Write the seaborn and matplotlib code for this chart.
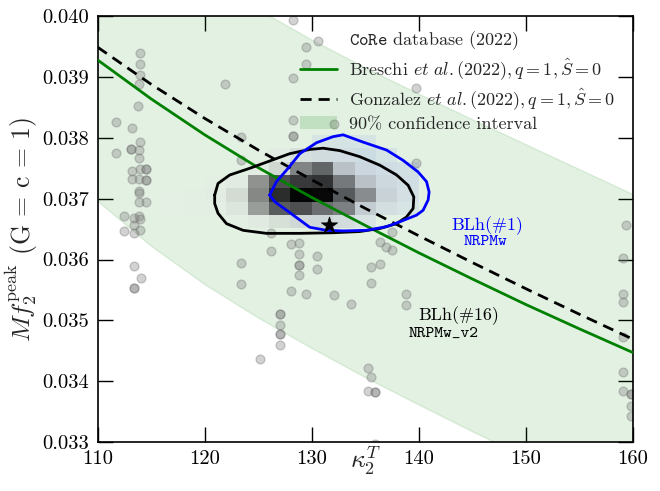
import numpy as np
import pandas as pd
import matplotlib
matplotlib.use("Agg")
import matplotlib.pyplot as plt
from matplotlib.colors import LinearSegmentedColormap
from matplotlib.lines import Line2D
from matplotlib.patches import Patch
import seaborn as sns

# --- quasi-universal fits for the peak frequency -------------------------
kappa_grid = [110, 115, 120, 125, 130, 135, 140, 145, 150, 155, 160]
breschi_fit = [0.03928, 0.03864, 0.03805, 0.03751, 0.03702, 0.03656,
               0.03611, 0.03568, 0.03526, 0.03486, 0.03447]
gonzalez_fit = [0.03949, 0.03888, 0.03832, 0.03780, 0.03731, 0.03684,
                0.03639, 0.03595, 0.03552, 0.03510, 0.03469]
band_lower = [0.03696, 0.03622, 0.03559, 0.03504, 0.03454, 0.03406,
              0.03361, 0.03317, 0.03275, 0.03235, 0.03196]
band_upper = [0.04188, 0.04124, 0.04065, 0.04011, 0.03961, 0.03915,
              0.03872, 0.03830, 0.03789, 0.03748, 0.03707]

# --- CoRe database simulations --------------------------------------------
core_kappa = [
    113.93, 113.99, 113.93, 113.86, 113.80, 111.75, 113.18, 113.93, 113.12, 113.12,
    113.86, 111.75, 113.86, 113.93, 114.49, 114.49, 113.18, 113.18, 113.86, 114.49,
    114.49, 113.86, 113.86, 113.86, 114.49, 112.50, 113.43, 113.86, 113.99, 113.43,
    112.50, 113.43, 113.99, 113.43, 114.05, 113.43, 113.43,
    128.20, 130.59, 129.50, 129.50, 121.90, 128.20, 139.72, 128.20, 132.08, 128.20,
    128.20, 123.43, 123.43, 139.72,
    126.23, 128.10, 128.81, 126.23, 128.81, 130.53, 123.43, 128.81, 128.81, 130.53,
    128.81, 123.43, 128.10, 129.50, 132.08, 133.64, 136.36, 136.96, 137.50, 137.50,
    135.54, 136.36, 135.54, 138.79, 138.79, 127.07, 127.07, 127.07, 127.07, 127.07,
    127.07, 125.14, 135.26, 135.54, 135.26, 135.92, 135.92, 135.92,
    159.32, 159.09, 159.09, 159.09, 159.09, 159.09, 159.09, 159.79, 159.79, 159.79,
    159.79,
]
core_fpeak = [
    0.03939, 0.03921, 0.03904, 0.03889, 0.03852, 0.03826, 0.03817, 0.03794, 0.03781, 0.03781,
    0.03780, 0.03775, 0.03767, 0.03749, 0.03749, 0.03749, 0.03746, 0.03733, 0.03732, 0.03731,
    0.03731, 0.03713, 0.03709, 0.03694, 0.03694, 0.03671, 0.03669, 0.03671, 0.03666, 0.03656,
    0.03647, 0.03644, 0.03648, 0.03589, 0.03570, 0.03553, 0.03553,
    0.03993, 0.03959, 0.03949, 0.03921, 0.03889, 0.03899, 0.03882, 0.03830, 0.03822, 0.03803,
    0.03803, 0.03802, 0.03763, 0.03758,
    0.03643, 0.03625, 0.03627, 0.03614, 0.03609, 0.03606, 0.03595, 0.03591, 0.03591, 0.03584,
    0.03575, 0.03560, 0.03549, 0.03544, 0.03542, 0.03527, 0.03629, 0.03621, 0.03616, 0.03646,
    0.03588, 0.03593, 0.03562, 0.03543, 0.03525, 0.03511, 0.03511, 0.03493, 0.03477, 0.03477,
    0.03459, 0.03437, 0.03421, 0.03407, 0.03384, 0.03383, 0.03383, 0.03297,
    0.03657, 0.03602, 0.03543, 0.03530, 0.03473, 0.03415, 0.03384, 0.03379, 0.03379, 0.03360,
    0.03342,
]

# --- BLh posterior histograms (NRPMw_v2 grey, NRPMw blue) -----------------
cell_kappa = [115, 117, 119, 121, 123, 125, 127, 129, 131, 133, 135, 137, 139, 141]
cell_fpeak = [0.03794, 0.03772, 0.03750, 0.03728, 0.03706, 0.03684, 0.03662, 0.03640]
kappa_edges = [114, 116, 118, 120, 122, 124, 126, 128, 130, 132, 134, 136, 138, 140, 142]
fpeak_edges = [0.03629, 0.03651, 0.03673, 0.03695, 0.03717, 0.03739, 0.03761,
               0.03783, 0.03805]
nrpmw_v2_density = [
    [0, 0, 0, 0, 0, 0, 0, 0, 0, 0, 0, 0, 0, 0],
    [0, 0, 0, 0, 0, 0, 0.05, 0.08, 0.08, 0.05, 0, 0, 0, 0],
    [0, 0, 0, 0, 0, 0.05, 0.15, 0.40, 0.55, 0.18, 0.08, 0.04, 0, 0],
    [0, 0, 0, 0.03, 0.06, 0.35, 0.65, 0.75, 0.78, 0.45, 0.18, 0.08, 0.03, 0],
    [0, 0.01, 0.02, 0.05, 0.14, 0.40, 0.82, 1.00, 0.98, 0.60, 0.35, 0.12, 0.04, 0],
    [0, 0.01, 0.02, 0.03, 0.09, 0.30, 0.60, 0.65, 0.50, 0.42, 0.15, 0.06, 0, 0],
    [0, 0, 0, 0, 0.03, 0.07, 0.12, 0.12, 0.12, 0.09, 0.04, 0, 0, 0],
    [0, 0, 0, 0, 0, 0, 0, 0, 0, 0, 0, 0, 0, 0],
]
nrpmw_density = [
    [0, 0, 0, 0, 0, 0, 0, 0, 0.3, 0.4, 0.3, 0, 0, 0],
    [0, 0, 0, 0, 0, 0, 0, 0.3, 0.5, 0.7, 0.7, 0.4, 0, 0],
    [0, 0, 0, 0, 0, 0, 0, 0.6, 0.8, 0.9, 0.9, 0.8, 0.5, 0],
    [0, 0, 0, 0, 0, 0, 0.5, 0.8, 1.0, 1.0, 0.9, 0.8, 0.7, 0],
    [0, 0, 0, 0, 0, 0, 0.6, 0.9, 1.0, 1.0, 0.9, 0.7, 0.6, 0],
    [0, 0, 0, 0, 0, 0, 0.4, 0.7, 0.8, 0.8, 0.7, 0.5, 0.3, 0],
    [0, 0, 0, 0, 0, 0, 0, 0.3, 0.4, 0.4, 0.3, 0, 0, 0],
    [0, 0, 0, 0, 0, 0, 0, 0, 0, 0, 0, 0, 0, 0],
]

# 90% credible contours
v2_contour_kappa = [120.93, 121.24, 122.34, 124.21, 126.23, 127.94, 129.81, 131.06, 132.62,
                    134.49, 136.36, 137.92, 139.00, 139.53, 139.47, 138.85, 137.92, 136.36,
                    134.49, 131.99, 128.88, 125.77, 123.58, 122.03, 121.24, 120.93, 120.93]
v2_contour_fpeak = [0.03706, 0.03725, 0.03739, 0.03750, 0.03763, 0.03774, 0.03781, 0.03783,
                    0.03779, 0.03769, 0.03755, 0.03739, 0.03722, 0.03703, 0.03684, 0.03670,
                    0.03659, 0.03651, 0.03646, 0.03644, 0.03643, 0.03643, 0.03648, 0.03659,
                    0.03676, 0.03692, 0.03706]
w_contour_kappa = [126.07, 126.70, 127.79, 128.88, 130.44, 131.99, 132.93, 134.79, 136.98,
                   138.53, 139.93, 140.72, 140.96, 140.87, 140.40, 139.79, 138.22, 136.98,
                   135.11, 132.93, 131.37, 129.81, 128.88, 127.64, 126.54, 126.07]
w_contour_fpeak = [0.03706, 0.03728, 0.03750, 0.03774, 0.03792, 0.03802, 0.03805, 0.03793,
                   0.03780, 0.03763, 0.03744, 0.03728, 0.03711, 0.03698, 0.03681, 0.03673,
                   0.03662, 0.03654, 0.03648, 0.03647, 0.03648, 0.03653, 0.03665, 0.03681,
                   0.03695, 0.03706]

# injected value
star_kappa = [131.62]
star_fpeak = [0.036566]

x_ticks = [110, 120, 130, 140, 150, 160]
y_ticks = [0.033, 0.034, 0.035, 0.036, 0.037, 0.038, 0.039, 0.040]
y_tick_labels = ["0.033", "0.034", "0.035", "0.036", "0.037", "0.038", "0.039", "0.040"]

# --- style -------------------------------------------------------------------
sns.set_theme(style="ticks")
plt.rcParams["font.family"] = ["cmr10", "DejaVu Serif"]
plt.rcParams["mathtext.fontset"] = "cm"
plt.rcParams["axes.formatter.use_mathtext"] = True
plt.rcParams["axes.unicode_minus"] = False


def cells_frame(density):
    rows = []
    for i, fp in enumerate(cell_fpeak):
        for j, kp in enumerate(cell_kappa):
            if density[i][j] > 0:
                rows.append((kp, fp, density[i][j]))
    return pd.DataFrame(rows, columns=["kappa", "fpeak", "w"])


fig, ax = plt.subplots(figsize=(6.6, 4.91), dpi=100)
fig.subplots_adjust(left=0.148, right=0.959, bottom=0.0998, top=0.967)

green = "#008000"
ax.fill_between(kappa_grid, band_lower, band_upper, color=green, alpha=0.11,
                linewidth=1.0, zorder=1)

sns.scatterplot(x=core_kappa, y=core_fpeak, color="#808080", alpha=0.35, s=40,
                edgecolor="#707070", linewidth=1.0, ax=ax, zorder=2, legend=False)

blue_cmap = LinearSegmentedColormap.from_list(
    "blue_cells", [(0.25, 0.35, 0.9, 0.03), (0.25, 0.35, 0.9, 0.18)])
grey_cmap = LinearSegmentedColormap.from_list(
    "grey_cells", [(0.0, (0.95, 0.95, 0.95, 0.15)),
                   (0.3, (0.5, 0.5, 0.5, 0.75)),
                   (0.7, (0.2, 0.2, 0.2, 0.9)),
                   (1.0, (0.0, 0.0, 0.0, 0.98))])

sns.histplot(data=cells_frame(nrpmw_density), x="kappa", y="fpeak", weights="w",
             bins=[kappa_edges, fpeak_edges], cmap=blue_cmap, vmin=0, vmax=1,
             ax=ax, zorder=3)
sns.histplot(data=cells_frame(nrpmw_v2_density), x="kappa", y="fpeak", weights="w",
             bins=[kappa_edges, fpeak_edges], cmap=grey_cmap, vmin=0, vmax=1,
             ax=ax, zorder=3)

sns.lineplot(x=kappa_grid, y=breschi_fit, color=green, linewidth=2.0, ax=ax, zorder=4)
sns.lineplot(x=kappa_grid, y=gonzalez_fit, color="black", linewidth=2.0,
             linestyle=(0, (4, 2.5)), ax=ax, zorder=4)

ax.plot(v2_contour_kappa, v2_contour_fpeak, color="black", linewidth=2.0, zorder=5)
ax.plot(w_contour_kappa, w_contour_fpeak, color="blue", linewidth=2.0, zorder=5)

sns.scatterplot(x=star_kappa, y=star_fpeak, marker="*", color="black", s=150,
                edgecolor="black", linewidth=0.5, ax=ax, zorder=6, legend=False)

ax.text(146.36, 0.03655, "BLh(#1)", color="blue", fontsize=13, ha="center", va="center")
ax.text(146.26, 0.036286, "NRPMw", color="blue", fontsize=12, ha="center", va="center",
        family="cmtt10")
ax.text(143.74, 0.03507, "BLh(#16)", color="black", fontsize=13, ha="center", va="center")
ax.text(142.34, 0.034775, "NRPMw_v2", color="black", fontsize=12, ha="center",
        va="center", family="cmtt10")

ax.set_xlim(110, 160)
ax.set_ylim(0.033, 0.040)
ax.set_xticks(x_ticks, labels=[str(t) for t in x_ticks])
ax.set_yticks(y_ticks, labels=y_tick_labels)
ax.tick_params(direction="in", length=11, width=1.0, top=True, right=True,
               labelsize=14.8, pad=6, colors="black")
ax.minorticks_off()
for sp in ax.spines.values():
    sp.set_linewidth(1.2)
    sp.set_color("black")

ax.set_xlabel(r"$\kappa_2^T$", fontsize=18.5, labelpad=-17)
ax.set_ylabel(r"$Mf_2^{\rm peak}$ (G = c = 1)", fontsize=18.5, labelpad=2)

handles = [
    Line2D([], [], linestyle="none"),
    Line2D([], [], color=green, linewidth=2.0),
    Line2D([], [], color="black", linewidth=2.0, linestyle=(0, (4, 2.5))),
    Patch(facecolor=green, alpha=0.15, edgecolor="none"),
]
labels = [
    r"$\mathtt{CoRe}$ database (2022)",
    r"Breschi $et\ al.$(2022)$, q = 1, \hat{S} = 0$",
    r"Gonzalez $et\ al.$(2022)$, q = 1, \hat{S} = 0$",
    "90% confidence interval",
]
ax.legend(handles, labels, loc="upper left", bbox_to_anchor=(0.378, 0.97),
          frameon=False, fontsize=13, handlelength=2.05, handletextpad=0.65,
          labelspacing=0.24, borderpad=0, borderaxespad=0)

fig.savefig("out.png", dpi=100)
